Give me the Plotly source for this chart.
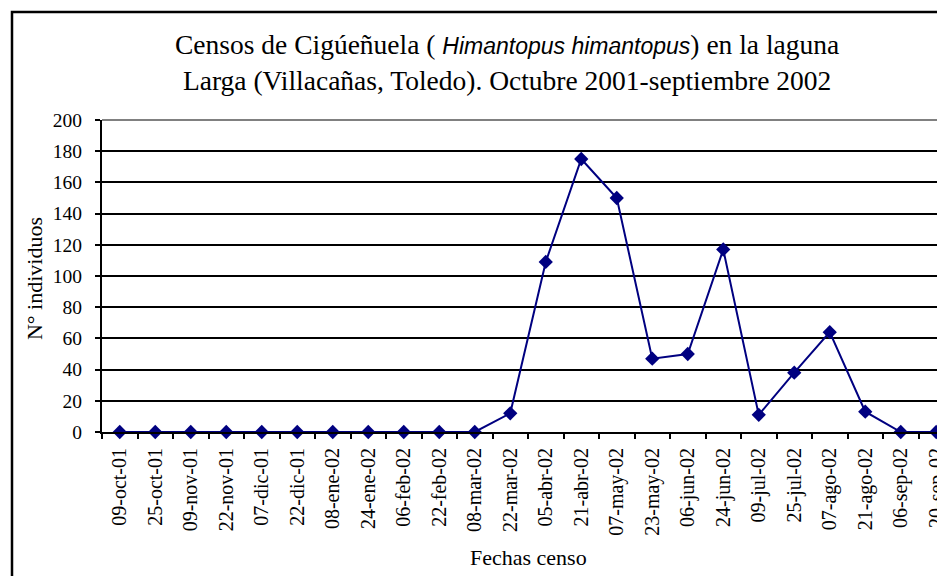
import plotly.graph_objects as go

fechas = ["09-oct-01", "25-oct-01", "09-nov-01", "22-nov-01", "07-dic-01", "22-dic-01",
          "08-ene-02", "24-ene-02", "06-feb-02", "22-feb-02", "08-mar-02", "22-mar-02",
          "05-abr-02", "21-abr-02", "07-may-02", "23-may-02", "06-jun-02", "24-jun-02",
          "09-jul-02", "25-jul-02", "07-ago-02", "21-ago-02", "06-sep-02", "20-sep-02"]
individuos = [0, 0, 0, 0, 0, 0, 0, 0, 0, 0, 0, 12, 109, 175, 150, 47, 50, 117, 11, 38, 64, 13, 0, 0]
y_ticks = [0, 20, 40, 60, 80, 100, 120, 140, 160, 180, 200]

SERIF = "Liberation Serif"
NAVY = "#000080"

fig = go.Figure()
fig.add_trace(go.Scatter(
    x=fechas, y=individuos, mode="lines+markers",
    line=dict(color=NAVY, width=2),
    marker=dict(symbol="diamond", size=11, color=NAVY),
    cliponaxis=False, showlegend=False, hoverinfo="skip",
))

W, H = 937, 576
L, T, B = 102, 120, 144
R = 0
plot_w = W - L - R
spacing = 35.5
x_end = plot_w / spacing - 0.5

fig.update_layout(
    width=W, height=H,
    margin=dict(l=L, r=R, t=T, b=B, pad=0, autoexpand=False),
    paper_bgcolor="white", plot_bgcolor="white",
    font=dict(family=SERIF, color="black", size=19),
    xaxis=dict(
        type="category", range=[-0.5, x_end], automargin=False,
        tickangle=-90, tickson="boundaries", ticks="outside", ticklen=5,
        tickcolor="black", tickwidth=1.5,
        showline=True, linecolor="black", linewidth=2,
        showgrid=False, tickfont=dict(family=SERIF, size=20),
        ticklabelstandoff=6,
    ),
    yaxis=dict(
        range=[0, 200], tickvals=y_ticks, ticks="outside", ticklen=5, automargin=False,
        tickcolor="black", tickwidth=1.5,
        showline=True, linecolor="black", linewidth=2,
        showgrid=True, gridcolor="black", gridwidth=1.5,
        zeroline=False, tickfont=dict(family=SERIF, size=19.5),
        ticklabelstandoff=9,
    ),
)

# grey plot-area top border
fig.add_shape(type="line", xref="paper", yref="paper", x0=0, x1=1, y0=1, y1=1,
              line=dict(color="#808080", width=2))
# outer chart frame (extends beyond visible window on right/bottom)
fig.add_shape(type="rect", xref="paper", yref="paper",
              x0=(12 - L) / plot_w, x1=1.1, y0=-0.6, y1=(432 - 12) / 312,
              line=dict(color="black", width=2.5), fillcolor="rgba(0,0,0,0)", layer="above")

fig.add_annotation(
    xref="paper", yref="paper", x=(507 - L) / plot_w, y=(432 - 63) / 312,
    xanchor="center", yanchor="middle", showarrow=False,
    text=("Censos de Cigúeñuela ( <span style='font-family:Liberation Sans;font-size:23px'><i>Himantopus himantopus</i></span>) en la laguna"
          "<br>Larga (Villacañas, Toledo). Octubre 2001-septiembre 2002"),
    font=dict(family=SERIF, size=27.5, color="black"),
)
fig.add_annotation(
    xref="paper", yref="paper", x=(34 - L) / plot_w, y=0.49,
    xanchor="center", yanchor="middle", showarrow=False, textangle=-90,
    text="N° individuos", font=dict(family=SERIF, size=22, color="black"),
)
fig.add_annotation(
    xref="paper", yref="paper", x=(528 - L) / plot_w, y=(432 - 557) / 312,
    xanchor="center", yanchor="middle", showarrow=False,
    text="Fechas censo", font=dict(family=SERIF, size=22, color="black"),
)

fig.write_html("out.html", config={"displayModeBar": False},
               post_script="document.body.style.margin='0';document.body.style.overflow='hidden';")
